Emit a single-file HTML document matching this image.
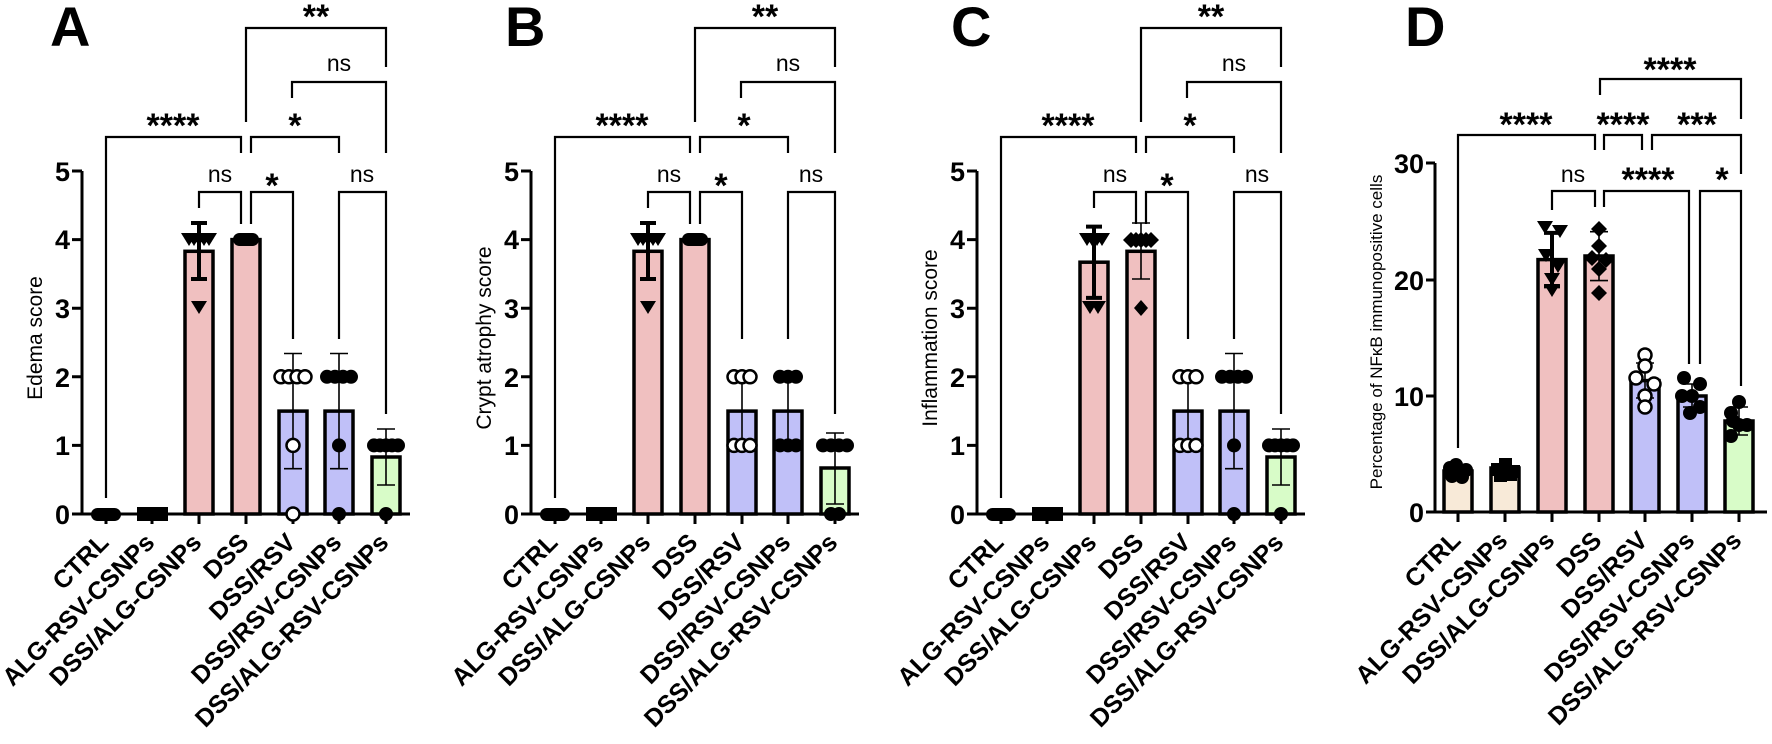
<!DOCTYPE html>
<html><head><meta charset="utf-8"><style>
html,body{margin:0;padding:0;background:#fff;}
svg{display:block;font-family:"Liberation Sans",Arial,sans-serif;}
.ax{stroke:#000;stroke-width:3;fill:none;}
.br{stroke:#000;stroke-width:2.2;fill:none;}
.tl{font-weight:bold;font-size:27px;text-anchor:end;}
.xl{font-weight:bold;font-size:25px;text-anchor:end;}
.st{font-weight:bold;font-size:34px;text-anchor:middle;}
.ns{font-size:23px;text-anchor:middle;}
.yl{font-size:21px;text-anchor:middle;}
.pk{fill:#f0c0c0;stroke:#000;stroke-width:3.5;}
.bl{fill:#c0c0f8;stroke:#000;stroke-width:3.5;}
.gr{fill:#d8fcc8;stroke:#000;stroke-width:3.5;}
.be{fill:#f8ead8;stroke:#000;stroke-width:3.5;}
.eb{stroke:#000;stroke-width:4;fill:none;}
.et{stroke:#000;stroke-width:1.6;fill:none;}
.oc{fill:#fff;stroke:#000;stroke-width:2.5;}
.L{font-weight:bold;font-size:56px;}
</style></head><body>
<svg width="1772" height="744" viewBox="0 0 1772 744" xmlns="http://www.w3.org/2000/svg">
<defs>
<g id="axesABC">
  <path class="ax" d="M82,171 V514 M72,514 H410 M72,171 H82 M72,239.6 H82 M72,308.2 H82 M72,376.8 H82 M72,445.4 H82 M106,514 V524 M152,514 V524 M199,514 V524 M246,514 V524 M293,514 V524 M339,514 V524 M386,514 V524"/>
  <text class="tl" x="70" y="181">5</text>
  <text class="tl" x="70" y="249">4</text>
  <text class="tl" x="70" y="318">3</text>
  <text class="tl" x="70" y="387">2</text>
  <text class="tl" x="70" y="455">1</text>
  <text class="tl" x="70" y="524">0</text>
  <text class="xl" transform="translate(110,544) rotate(-45)">CTRL</text>
  <text class="xl" transform="translate(156,544) rotate(-45)">ALG-RSV-CSNPs</text>
  <text class="xl" transform="translate(203,544) rotate(-45)">DSS/ALG-CSNPs</text>
  <text class="xl" transform="translate(250,544) rotate(-45)">DSS</text>
  <text class="xl" transform="translate(297,544) rotate(-45)">DSS/RSV</text>
  <text class="xl" transform="translate(343,544) rotate(-45)">DSS/RSV-CSNPs</text>
  <text class="xl" transform="translate(390,544) rotate(-45)">DSS/ALG-RSV-CSNPs</text>
  <polyline class="br" points="106,498 106,137 241,137 241,153"/>
  <polyline class="br" points="251,153 251,137 339,137 339,153"/>
  <polyline class="br" points="246,122 246,28 386,28 386,67"/>
  <polyline class="br" points="292,98 292,82 386,82 386,153"/>
  <polyline class="br" points="199,208 199,192 241,192 241,224"/>
  <polyline class="br" points="251,224 251,192 293,192 293,339"/>
  <polyline class="br" points="339,339 339,192 386,192 386,414"/>
  <text class="st" x="173" y="137">****</text>
  <text class="st" x="295" y="137">*</text>
  <text class="st" x="316" y="28">**</text>
  <text class="ns" x="339" y="71">ns</text>
  <text class="ns" x="220" y="182">ns</text>
  <text class="st" x="272" y="197">*</text>
  <text class="ns" x="362" y="182">ns</text>
  <rect x="91" y="508" width="30" height="13" rx="6.5" fill="#000"/>
  <rect x="137" y="507" width="31" height="14" fill="#000"/>
</g>
</defs>

<!-- Panel A -->
<text class="L" x="50" y="46">A</text>
<use href="#axesABC"/>
<text class="yl" transform="translate(42,338) rotate(-90)">Edema score</text>
<rect class="pk" x="185" y="251.3" width="28" height="262.7"/>
<rect class="pk" x="232" y="239.6" width="28" height="274.4"/>
<rect class="bl" x="279" y="411.1" width="28" height="102.9"/>
<rect class="bl" x="325" y="411.1" width="28" height="102.9"/>
<rect class="gr" x="372" y="457" width="28" height="57"/>
<path class="eb" d="M199,223 V279 M191,223 H207 M191,279 H207"/>
<path class="et" d="M293,353.5 V468.7 M284,353.5 H302 M284,468.7 H302"/>
<path class="et" d="M339,353.5 V468.7 M330,353.5 H348 M330,468.7 H348"/>
<path class="et" d="M386,429 V485 M377,429 H395 M377,485 H395"/>
<g fill="#000">
<polygon points="181,233 197,233 189,246"/><polygon points="186,233 202,233 194,246"/><polygon points="191,233 207,233 199,246"/><polygon points="196,233 212,233 204,246"/><polygon points="201,233 217,233 209,246"/>
<polygon points="191,301 207,301 199,314"/>
<rect x="233" y="233" width="26" height="13" rx="6.5"/>
<circle cx="327" cy="376.8" r="7"/><circle cx="335" cy="376.8" r="7"/><circle cx="343" cy="376.8" r="7"/><circle cx="351" cy="376.8" r="7"/>
<circle cx="339" cy="445.4" r="7"/><circle cx="339" cy="514" r="7"/>
<circle cx="374" cy="445.4" r="7"/><circle cx="380" cy="445.4" r="7"/><circle cx="386" cy="445.4" r="7"/><circle cx="392" cy="445.4" r="7"/><circle cx="398" cy="445.4" r="7"/>
<circle cx="386" cy="514" r="7"/>
</g>
<circle class="oc" cx="281" cy="376.8" r="6.5"/><circle class="oc" cx="289" cy="376.8" r="6.5"/><circle class="oc" cx="297" cy="376.8" r="6.5"/><circle class="oc" cx="305" cy="376.8" r="6.5"/>
<circle class="oc" cx="293" cy="445.4" r="6.5"/><circle class="oc" cx="293" cy="514" r="6.5"/>

<!-- Panel B -->
<text class="L" x="505" y="46">B</text>
<g transform="translate(449,0)">
<use href="#axesABC"/>
<text class="yl" transform="translate(42,338) rotate(-90)">Crypt atrophy score</text>
<rect class="pk" x="185" y="251.3" width="28" height="262.7"/>
<rect class="pk" x="232" y="239.6" width="28" height="274.4"/>
<rect class="bl" x="279" y="411.1" width="28" height="102.9"/>
<rect class="bl" x="325" y="411.1" width="28" height="102.9"/>
<rect class="gr" x="372" y="468" width="28" height="46"/>
<path class="eb" d="M199,223 V279 M191,223 H207 M191,279 H207"/>
<path class="et" d="M293,373.4 V449 M339,373.4 V449"/>
<path class="et" d="M386,433 V504 M377,433 H395 M377,504 H395"/>
<g fill="#000">
<polygon points="181,233 197,233 189,246"/><polygon points="186,233 202,233 194,246"/><polygon points="191,233 207,233 199,246"/><polygon points="196,233 212,233 204,246"/><polygon points="201,233 217,233 209,246"/>
<polygon points="191,301 207,301 199,314"/>
<rect x="233" y="233" width="26" height="13" rx="6.5"/>
<circle cx="331" cy="376.8" r="7"/><circle cx="339" cy="376.8" r="7"/><circle cx="347" cy="376.8" r="7"/>
<circle cx="331" cy="445.4" r="7"/><circle cx="339" cy="445.4" r="7"/><circle cx="347" cy="445.4" r="7"/>
<circle cx="374" cy="445.4" r="7"/><circle cx="382" cy="445.4" r="7"/><circle cx="390" cy="445.4" r="7"/><circle cx="398" cy="445.4" r="7"/>
<circle cx="382" cy="514" r="7"/><circle cx="390" cy="514" r="7"/>
</g>
<circle class="oc" cx="285" cy="376.8" r="6.5"/><circle class="oc" cx="293" cy="376.8" r="6.5"/><circle class="oc" cx="301" cy="376.8" r="6.5"/>
<circle class="oc" cx="285" cy="445.4" r="6.5"/><circle class="oc" cx="293" cy="445.4" r="6.5"/><circle class="oc" cx="301" cy="445.4" r="6.5"/>
</g>

<!-- Panel C -->
<text class="L" x="951" y="46">C</text>
<g transform="translate(895,0)">
<use href="#axesABC"/>
<text class="yl" transform="translate(42,338) rotate(-90)">Inflammation score</text>
<rect class="pk" x="185" y="262.2" width="28" height="251.8"/>
<rect class="pk" x="232" y="251.3" width="28" height="262.7"/>
<rect class="bl" x="279" y="411.1" width="28" height="102.9"/>
<rect class="bl" x="325" y="411.1" width="28" height="102.9"/>
<rect class="gr" x="372" y="457" width="28" height="57"/>
<path class="eb" d="M199,226.6 V297.9 M191,226.6 H207 M191,297.9 H207"/>
<path class="et" d="M246,223 V279 M237,223 H255 M237,279 H255"/>
<path class="et" d="M293,373.4 V449"/>
<path class="et" d="M339,353.5 V468.7 M330,353.5 H348 M330,468.7 H348"/>
<path class="et" d="M386,429 V485 M377,429 H395 M377,485 H395"/>
<g fill="#000">
<polygon points="184,233 200,233 192,246"/><polygon points="189,233 205,233 197,246"/><polygon points="194,233 210,233 202,246"/><polygon points="199,233 215,233 207,246"/>
<polygon points="187,301 203,301 195,314"/><polygon points="195,301 211,301 203,314"/>
<polygon points="236,232 244,240 236,248 228,240"/><polygon points="241,232 249,240 241,248 233,240"/><polygon points="246,232 254,240 246,248 238,240"/><polygon points="251,232 259,240 251,248 243,240"/><polygon points="256,232 264,240 256,248 248,240"/>
<polygon points="246,300 253,308 246,316 239,308"/>
<circle cx="327" cy="376.8" r="7"/><circle cx="335" cy="376.8" r="7"/><circle cx="343" cy="376.8" r="7"/><circle cx="351" cy="376.8" r="7"/>
<circle cx="339" cy="445.4" r="7"/><circle cx="339" cy="514" r="7"/>
<circle cx="374" cy="445.4" r="7"/><circle cx="380" cy="445.4" r="7"/><circle cx="386" cy="445.4" r="7"/><circle cx="392" cy="445.4" r="7"/><circle cx="398" cy="445.4" r="7"/>
<circle cx="386" cy="514" r="7"/>
</g>
<circle class="oc" cx="285" cy="376.8" r="6.5"/><circle class="oc" cx="293" cy="376.8" r="6.5"/><circle class="oc" cx="301" cy="376.8" r="6.5"/>
<circle class="oc" cx="285" cy="445.4" r="6.5"/><circle class="oc" cx="293" cy="445.4" r="6.5"/><circle class="oc" cx="301" cy="445.4" r="6.5"/>
</g>

<!-- Panel D -->
<text class="L" x="1405" y="46">D</text>
<path class="ax" d="M1435,163 V512 M1426,512 H1767 M1426,163 H1435 M1426,280 H1435 M1426,396 H1435 M1458,512 V522 M1505,512 V522 M1552,512 V522 M1599,512 V522 M1645,512 V522 M1692,512 V522 M1739,512 V522"/>
<text class="tl" x="1424" y="173">30</text>
<text class="tl" x="1424" y="290">20</text>
<text class="tl" x="1424" y="406">10</text>
<text class="tl" x="1424" y="522">0</text>
<text transform="translate(1382,332) rotate(-90)" style="font-size:17px;text-anchor:middle">Percentage of NFκB immunopositive cells</text>
<text class="xl" transform="translate(1462,542) rotate(-45)">CTRL</text>
<text class="xl" transform="translate(1509,542) rotate(-45)">ALG-RSV-CSNPs</text>
<text class="xl" transform="translate(1556,542) rotate(-45)">DSS/ALG-CSNPs</text>
<text class="xl" transform="translate(1603,542) rotate(-45)">DSS</text>
<text class="xl" transform="translate(1649,542) rotate(-45)">DSS/RSV</text>
<text class="xl" transform="translate(1696,542) rotate(-45)">DSS/RSV-CSNPs</text>
<text class="xl" transform="translate(1743,542) rotate(-45)">DSS/ALG-RSV-CSNPs</text>
<polyline class="br" points="1458,448 1458,135 1595,135 1595,150"/>
<polyline class="br" points="1604,150 1604,135 1642,135 1642,150"/>
<polyline class="br" points="1652,150 1652,135 1741,135 1741,174"/>
<polyline class="br" points="1600,95 1600,79 1741,79 1741,119"/>
<polyline class="br" points="1552,210 1552,191 1595,191 1595,207"/>
<polyline class="br" points="1604,207 1604,191 1689,191 1689,364"/>
<polyline class="br" points="1700,364 1700,191 1741,191 1741,386"/>
<text class="st" x="1670" y="81">****</text>
<text class="st" x="1526" y="136">****</text>
<text class="st" x="1623" y="136">****</text>
<text class="st" x="1697" y="136">***</text>
<text class="ns" x="1573" y="182">ns</text>
<text class="st" x="1648" y="191">****</text>
<text class="st" x="1722" y="191">*</text>
<rect class="be" x="1444" y="471" width="28" height="41"/>
<rect class="be" x="1491" y="468" width="28" height="44"/>
<rect class="pk" x="1538" y="259.6" width="28" height="252.4"/>
<rect class="pk" x="1585" y="256" width="28" height="256"/>
<rect class="bl" x="1631" y="380.6" width="28" height="131.4"/>
<rect class="bl" x="1678" y="396" width="28" height="116"/>
<rect class="gr" x="1725" y="421" width="28" height="91"/>
<path class="eb" d="M1552,232.9 V286.4 M1544,232.9 H1560 M1544,286.4 H1560"/>
<path class="et" d="M1599,231.7 V280.6 M1590,231.7 H1608 M1590,280.6 H1608"/>
<path class="et" d="M1645,363 V398 M1636,363 H1654 M1636,398 H1654"/>
<path class="et" d="M1692,384 V407 M1683,384 H1701 M1683,407 H1701"/>
<path class="et" d="M1739,407 V435 M1730,407 H1748 M1730,435 H1748"/>
<g fill="#000">
<circle cx="1450" cy="468" r="7"/><circle cx="1458" cy="472" r="7"/><circle cx="1466" cy="470" r="7"/><circle cx="1452" cy="476" r="7"/><circle cx="1462" cy="477" r="7"/><circle cx="1456" cy="465" r="7"/>
<rect x="1491" y="463" width="13" height="13"/><rect x="1499" y="461" width="13" height="13"/><rect x="1507" y="465" width="13" height="13"/><rect x="1494" y="469" width="13" height="13"/><rect x="1504" y="468" width="13" height="13"/><rect x="1499" y="458" width="13" height="13"/>
<polygon points="1537,221 1553,221 1545,234"/><polygon points="1552,225 1568,225 1560,238"/><polygon points="1538,249 1554,249 1546,262"/><polygon points="1550,260 1566,260 1558,273"/><polygon points="1544,273 1560,273 1552,286"/><polygon points="1544,284 1560,284 1552,297"/>
<polygon points="1599,221 1607,229 1599,237 1591,229"/><polygon points="1599,238 1607,246 1599,254 1591,246"/><polygon points="1592,250 1600,258 1592,266 1584,258"/><polygon points="1606,252 1614,260 1606,268 1598,260"/><polygon points="1599,261 1607,269 1599,277 1591,269"/><polygon points="1599,285 1607,293 1599,301 1591,293"/>
<circle cx="1684" cy="378" r="7"/><circle cx="1700" cy="384" r="7"/><circle cx="1692" cy="396" r="7"/><circle cx="1682" cy="396" r="7"/><circle cx="1700" cy="407" r="7"/><circle cx="1690" cy="413" r="7"/>
<circle cx="1739" cy="402" r="7"/><circle cx="1731" cy="413" r="7"/><circle cx="1733" cy="421" r="7"/><circle cx="1747" cy="425" r="7"/><circle cx="1739" cy="425" r="7"/><circle cx="1731" cy="436" r="7"/>
</g>
<circle class="oc" cx="1645" cy="355" r="6.5"/><circle class="oc" cx="1645" cy="366" r="6.5"/><circle class="oc" cx="1636" cy="378" r="6.5"/><circle class="oc" cx="1654" cy="384" r="6.5"/><circle class="oc" cx="1645" cy="396" r="6.5"/><circle class="oc" cx="1645" cy="407" r="6.5"/>
</svg>
</body></html>
